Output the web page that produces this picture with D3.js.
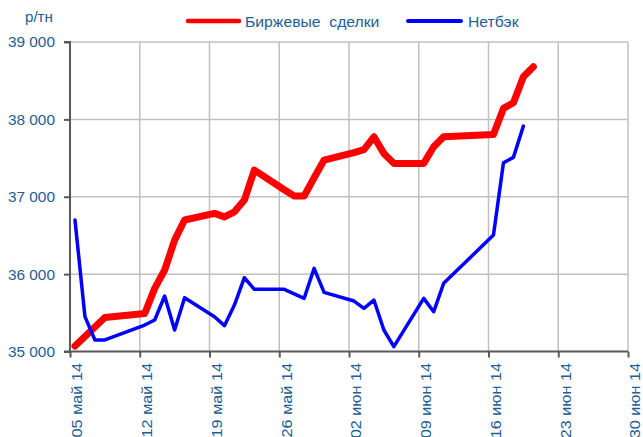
<!DOCTYPE html>
<html><head><meta charset="utf-8">
<script src="https://cdn.jsdelivr.net/npm/d3@7"></script>
<style>body{margin:0;background:#fff}svg{display:block}text{font-family:"Liberation Sans",Arial,sans-serif}</style>
</head><body><svg id="c" width="643" height="437"></svg>
<script>
const seriesNames = ["Биржевые  сделки", "Нетбэк"];
const exchangeDates = ["2014-05-05","2014-05-08","2014-05-12","2014-05-13","2014-05-14","2014-05-15","2014-05-16","2014-05-19","2014-05-20","2014-05-21","2014-05-22","2014-05-23","2014-05-26","2014-05-27","2014-05-28","2014-05-29","2014-05-30","2014-06-02","2014-06-03","2014-06-04","2014-06-05","2014-06-06","2014-06-09","2014-06-10","2014-06-11","2014-06-16","2014-06-17","2014-06-18","2014-06-19","2014-06-20"];
const exchangeValues = [35070,35440,35490,35816,36053,36440,36700,36785,36740,36806,36957,37345,37090,37010,37010,37245,37474,37570,37610,37775,37560,37431,37431,37646,37775,37806,38142,38215,38550,38680];
const netbackDates = ["2014-05-05","2014-05-06","2014-05-07","2014-05-08","2014-05-12","2014-05-13","2014-05-14","2014-05-15","2014-05-16","2014-05-19","2014-05-20","2014-05-21","2014-05-22","2014-05-23","2014-05-26","2014-05-28","2014-05-29","2014-05-30","2014-06-02","2014-06-03","2014-06-04","2014-06-05","2014-06-06","2014-06-09","2014-06-10","2014-06-11","2014-06-16","2014-06-17","2014-06-18","2014-06-19"];
const netbackValues = [36699,35450,35149,35149,35342,35407,35717,35278,35695,35450,35334,35600,35954,35804,35804,35687,36075,35765,35652,35558,35665,35278,35062,35687,35514,35881,36505,37439,37509,37913];
const xTickDates = ["2014-05-05","2014-05-12","2014-05-19","2014-05-26","2014-06-02","2014-06-09","2014-06-16","2014-06-23","2014-06-30"];
const xTickLabels = ["05 май 14","12 май 14","19 май 14","26 май 14","02 июн 14","09 июн 14","16 июн 14","23 июн 14","30 июн 14"];
const yTicks = [35000,36000,37000,38000,39000];
const yTickLabels = ["35 000","36 000","37 000","38 000","39 000"];
const yUnit = "р/тн";

const parse = d3.utcParse("%Y-%m-%d");
const svg = d3.select("#c");
const L = 70, R = 628, T = 42, B = 351.5;
const x = d3.scaleUtc().domain([parse("2014-05-05"), parse("2014-06-30")]).range([L, R]);
const y = d3.scaleLinear().domain([35000, 39000]).range([B, T]);
const half = 12*3600*1000;
const xp = d => x(new Date(d.getTime() + half));
const textColor = "#245d94";
const FONT = "Liberation Sans, Arial, sans-serif";

// gridlines
const g = svg.append("g");
g.selectAll(".gy").data(yTicks.slice(1)).join("line")
  .attr("x1", L).attr("x2", R).attr("y1", d => y(d)).attr("y2", d => y(d))
  .attr("stroke", "#c0c0c0").attr("stroke-width", 1.5);
g.selectAll(".gx").data(xTickDates.slice(1)).join("line")
  .attr("x1", d => x(parse(d))).attr("x2", d => x(parse(d))).attr("y1", T).attr("y2", B)
  .attr("stroke", "#c0c0c0").attr("stroke-width", 1.5);

// axes
const yAxis = d3.axisLeft(y).tickValues(yTicks).tickSize(6).tickFormat((d,i) => yTickLabels[i]);
const ya = svg.append("g").attr("transform", `translate(${L},0)`).call(yAxis);
ya.select(".domain").attr("stroke", "#595959").attr("stroke-width", 2).attr("d", `M-6,${T}H0V${B}H-6`);
ya.selectAll(".tick line").attr("stroke", "#595959").attr("stroke-width", 2);
ya.selectAll(".tick text").attr("fill", textColor).attr("font-size", 14).attr("font-family", FONT)
  .attr("x", 0).attr("dy", "0.35em").attr("text-anchor", "end")
  .attr("transform", "translate(-15,0) scale(1.1,1)");

const xAxis = d3.axisBottom(x).tickValues(xTickDates.map(parse)).tickSize(6).tickFormat((d,i) => xTickLabels[i]);
const xa = svg.append("g").attr("transform", `translate(0,${B})`).call(xAxis);
xa.select(".domain").attr("stroke", "#595959").attr("stroke-width", 2).attr("d", `M${L},0H${R}`);
xa.selectAll(".tick line").attr("stroke", "#595959").attr("stroke-width", 2);
xa.selectAll(".tick text").attr("fill", textColor).attr("font-size", 14)
  .attr("font-family", FONT)
  .attr("transform", "rotate(-90) translate(-11.5,7) scale(1.16,1)").attr("text-anchor", "end")
  .attr("x", 0).attr("y", 0).attr("dy", "0.35em");

svg.append("text").attr("x", 0).attr("y", 0).attr("text-anchor", "end")
  .attr("transform", "translate(53,22) scale(1.05,1)")
  .attr("fill", textColor).attr("font-size", 14.5).text(yUnit);

// lines
const line = d3.line().x(d => xp(d.date)).y(d => y(d.value));
const ex = exchangeDates.map((d,i) => ({date: parse(d), value: exchangeValues[i]}));
const nb = netbackDates.map((d,i) => ({date: parse(d), value: netbackValues[i]}));
svg.append("path").datum(ex).attr("d", line).attr("fill", "none").attr("stroke", "#ff0000")
  .attr("stroke-width", 7).attr("stroke-linejoin", "round").attr("stroke-linecap", "round");
svg.append("path").datum(nb).attr("d", line).attr("fill", "none").attr("stroke", "#0000ff")
  .attr("stroke-width", 3.5).attr("stroke-linejoin", "round").attr("stroke-linecap", "round");

// legend
const leg = [{x1:188,x2:239,tx:245,c:"#ff0000",w:4.5,name:seriesNames[0]},{x1:408,x2:461,tx:468,c:"#0000ff",w:4,name:seriesNames[1]}];
leg.forEach(l => {
  svg.append("line").attr("x1", l.x1).attr("x2", l.x2).attr("y1", 21).attr("y2", 21)
    .attr("stroke", l.c).attr("stroke-width", l.w).attr("stroke-linecap", "round");
  svg.append("text").attr("x", 0).attr("y", 0)
    .attr("transform", `translate(${l.tx},26.5) scale(1.05,1)`)
    .attr("fill", textColor).attr("font-size", 15)
    .attr("xml:space", "preserve").style("white-space", "pre").text(l.name);
});
</script></body></html>
